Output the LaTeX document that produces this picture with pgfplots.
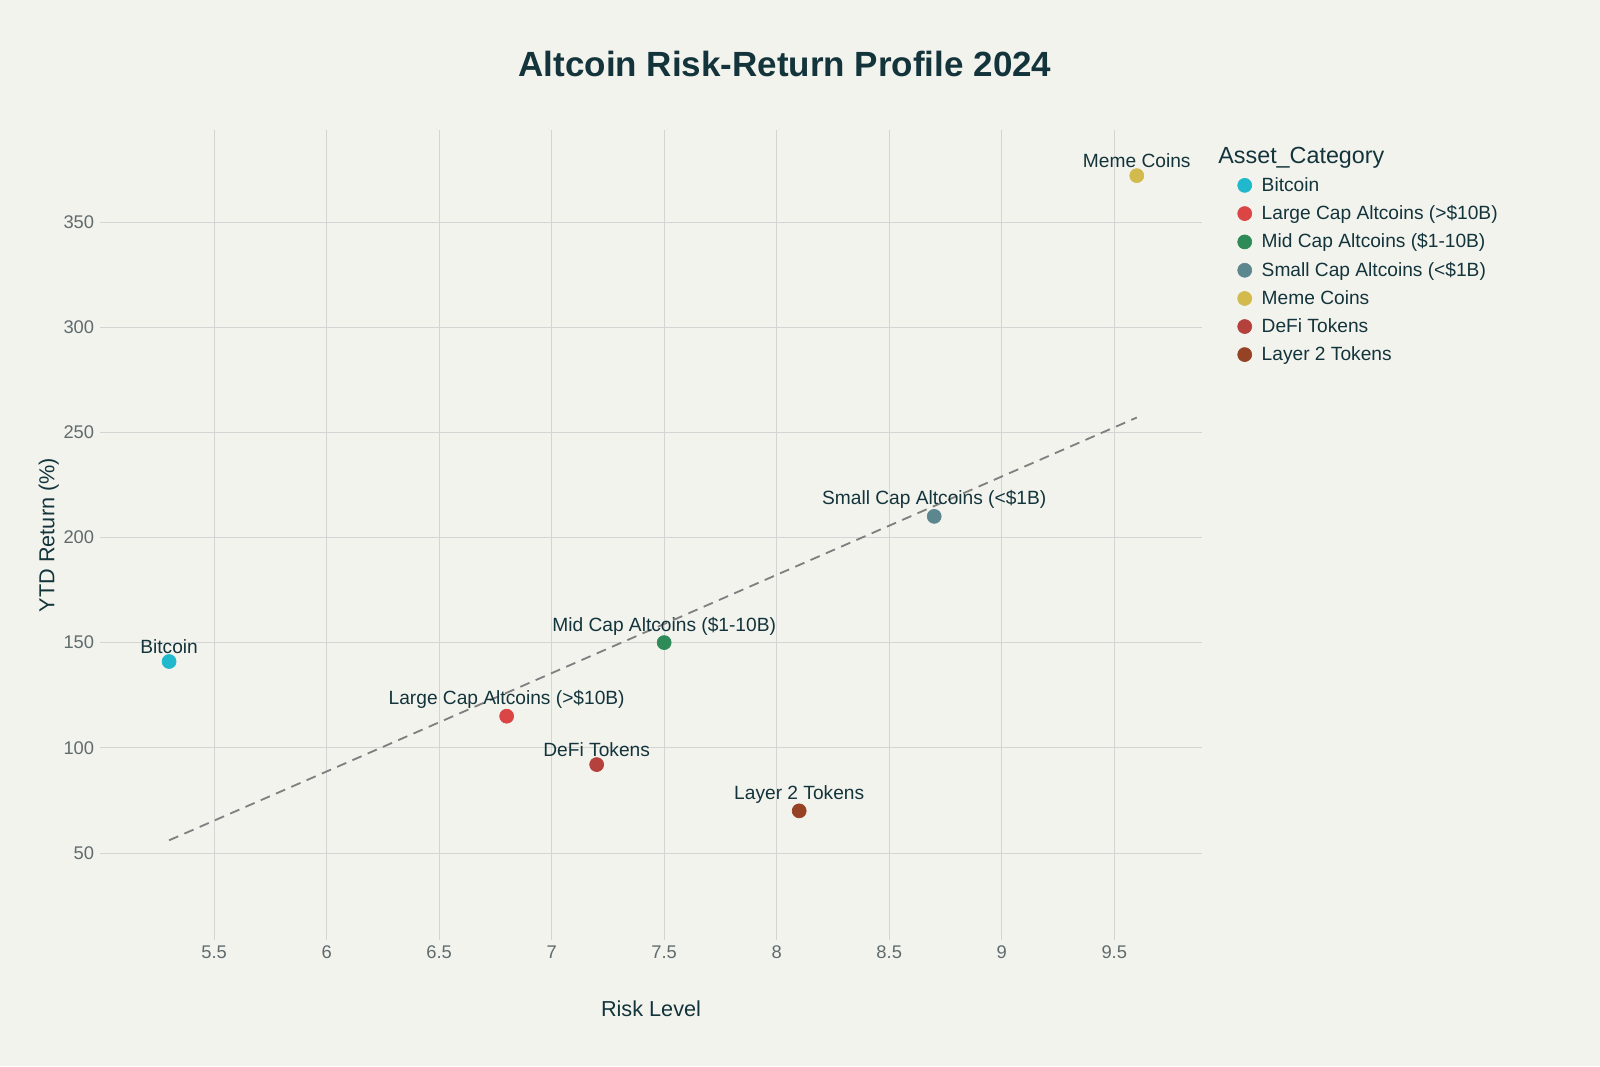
\documentclass[border=0pt]{standalone}
\usepackage{pgfplots}
\pgfplotsset{compat=1.18}
\usepackage{fontspec}
\setmainfont{Liberation Sans}
\definecolor{bg}{HTML}{F3F3EE}
\definecolor{tx}{HTML}{13343B}
\definecolor{tk}{HTML}{5F6B6D}
\definecolor{c1}{HTML}{1FB8CD}
\definecolor{c2}{HTML}{DB4545}
\definecolor{c3}{HTML}{2E8B57}
\definecolor{c4}{HTML}{5D878F}
\definecolor{c5}{HTML}{D2BA4C}
\definecolor{c6}{HTML}{B4413C}
\definecolor{c7}{HTML}{964325}
\begin{document}
\begin{tikzpicture}
\fill[bg] (0,0) rectangle (960pt,639.6pt);
\useasboundingbox (0,0) rectangle (960pt,639.6pt);
\node[text=tx,font=\bfseries\fontsize{21}{25}\selectfont] at (471pt,601.2pt) {Altcoin Risk-Return Profile 2024};
\begin{axis}[at={(60pt,75.6pt)},anchor=south west,scale only axis,width=661.2pt,height=486pt,
 xmin=4.993,xmax=9.89,ymin=8.6,ymax=393.7,
 axis line style={draw=none},tick style={draw=none},
 grid=major,grid style={draw=black!17},
 xtick={5.5,6,...,9.5},ytick={50,100,...,350},
 xticklabels={5.5,6,6.5,7,7.5,8,8.5,9,9.5},
 ticklabel style={text=tk,font=\fontsize{11}{13}\selectfont},
 /pgf/number format/assume math mode=true,
 xlabel={Risk Level},ylabel={YTD Return (\%)},
 label style={text=tx,font=\fontsize{13}{15}\selectfont},
 xlabel style={yshift=-18pt},ylabel style={yshift=-4pt},
 legend style={at={(1.021,0.988)},anchor=north west,draw=none,fill=none,
   font=\fontsize{11.5}{14}\selectfont,text=tx,row sep=3pt,
   cells={anchor=west},nodes={inner xsep=6pt}},
 legend cell align=left,
 every axis plot/.append style={only marks,mark=*,mark size=4.2pt,
   mark options={draw=white,line width=0.9pt}},
 nodes near coords,point meta=explicit symbolic,
 every node near coord/.append style={text=tx,font=\fontsize{11.5}{14}\selectfont,yshift=1pt},
]
\addlegendimage{empty legend}
\addlegendentry{\hspace{-26pt}\fontsize{14}{16}\selectfont Asset\_Category}
\addplot[c1,mark options={fill=c1}] coordinates {(5.3,141) [Bitcoin]};
\addlegendentry{Bitcoin}
\addplot[c2,mark options={fill=c2}] coordinates {(6.8,115) [Large Cap Altcoins (>\$10B)]};
\addlegendentry{Large Cap Altcoins (>\$10B)}
\addplot[c3,mark options={fill=c3}] coordinates {(7.5,150) [Mid Cap Altcoins (\$1-10B)]};
\addlegendentry{Mid Cap Altcoins (\$1-10B)}
\addplot[c4,mark options={fill=c4}] coordinates {(8.7,210) [Small Cap Altcoins (<\$1B)]};
\addlegendentry{Small Cap Altcoins (<\$1B)}
\addplot[c5,mark options={fill=c5}] coordinates {(9.6,372) [Meme Coins]};
\addlegendentry{Meme Coins}
\addplot[c6,mark options={fill=c6}] coordinates {(7.2,92) [DeFi Tokens]};
\addlegendentry{DeFi Tokens}
\addplot[c7,mark options={fill=c7}] coordinates {(8.1,70) [Layer 2 Tokens]};
\addlegendentry{Layer 2 Tokens}
\addplot[black!50,dashed,line width=1.1pt,dash pattern=on 6pt off 4pt,no marks,sharp plot,nodes near coords={},forget plot] coordinates {(5.3,56) (9.6,257)};
\end{axis}
\end{tikzpicture}
\end{document}
